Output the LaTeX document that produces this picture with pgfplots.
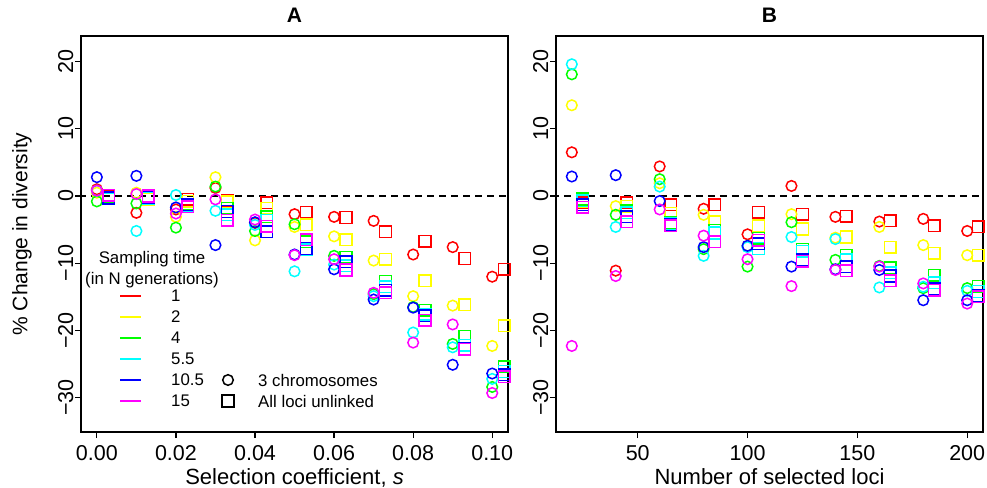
\documentclass[border=0pt]{standalone}
\usepackage{fontspec}
\setmainfont{Liberation Sans}
\usepackage{pgfplots}
\pgfplotsset{compat=1.18}
\usepackage{pgfplotstable}
\definecolor{Rred}{RGB}{255,0,0}
\definecolor{Ryellow}{RGB}{255,255,0}
\definecolor{Rgreen}{RGB}{0,255,0}
\definecolor{Rcyan}{RGB}{0,255,255}
\definecolor{Rblue}{RGB}{0,0,255}
\definecolor{Rmagenta}{RGB}{255,0,255}

% Panel A: circles (3 chromosomes) at s, squares (all loci unlinked) at s+0.003
\pgfplotstableread{
x r y g c b m
0.00 1.0 0.5 -0.8 0.8 2.8 0.8
0.01 -2.5 0.5 -1.1 -5.2 3.0 0.3
0.02 -2.0 -3.1 -4.7 0.15 -1.7 -2.6
0.03 1.2 2.8 1.4 -2.2 -7.3 -0.5
0.04 -4.0 -6.6 -5.2 -4.3 -3.9 -3.5
0.05 -2.7 -4.6 -4.2 -11.2 -8.7 -8.8
0.06 -3.1 -6.0 -8.9 -10.2 -10.9 -9.4
0.07 -3.7 -9.6 -14.6 -14.9 -15.4 -14.4
0.08 -8.7 -14.9 -16.5 -20.3 -16.6 -21.8
0.09 -7.6 -16.3 -22.0 -22.5 -25.1 -19.1
0.10 -12.0 -22.3 -28.4 -27.2 -26.4 -29.3
}\Acirc
\pgfplotstableread{
x r y g c b m
0.003 0.0 -0.3 -0.2 -0.4 -0.3 0.1
0.013 0.0 -0.5 -0.2 -0.3 -0.2 0.0
0.023 -0.5 -0.8 -1.2 -1.5 -1.3 -1.6
0.033 -0.6 -0.85 -1.8 -2.8 -2.3 -3.6
0.043 -1.0 -1.8 -3.1 -3.6 -5.3 -4.5
0.053 -2.4 -4.3 -6.8 -8.0 -7.8 -6.5
0.063 -3.2 -6.5 -9.1 -10.4 -9.8 -11.0
0.073 -5.3 -9.4 -12.7 -13.5 -14.0 -14.4
0.083 -6.7 -12.6 -17.0 -17.6 -17.8 -18.5
0.093 -9.3 -16.2 -20.9 -22.2 -22.7 -22.8
0.103 -10.9 -19.3 -25.4 -26.1 -26.6 -26.9
}\Asq
% Panel B: circles at n, squares at n+5
\pgfplotstableread{
x r y g c b m
20 6.5 13.5 18.1 19.6 2.9 -22.3
40 -11.1 -1.5 -2.8 -4.6 3.1 -11.9
60 4.4 1.9 2.5 1.4 -0.75 -2.0
80 -1.9 -2.8 -7.9 -8.9 -7.6 -5.9
100 -5.7 -7.4 -10.5 -7.6 -7.4 -9.4
120 1.5 -2.7 -3.9 -6.1 -10.5 -13.4
140 -3.1 -6.2 -9.5 -6.4 -10.9 -11.0
160 -3.8 -4.6 -10.4 -13.6 -11.0 -10.5
180 -3.4 -7.3 -13.7 -13.5 -15.5 -13.0
200 -5.2 -8.8 -13.7 -14.1 -15.5 -16.0
}\Bcirc
\pgfplotstableread{
x r y g c b m
25 -1.0 -0.8 -0.45 -0.7 -1.3 -1.7
45 -1.0 -1.5 -2.2 -2.5 -3.1 -3.8
65 -1.3 -2.6 -4.0 -4.1 -4.3 -4.4
85 -1.3 -3.8 -5.1 -5.5 -6.8 -6.8
105 -2.4 -4.4 -6.3 -7.8 -7.1 -6.6
125 -2.7 -4.9 -7.9 -8.2 -9.5 -9.7
145 -3.0 -6.1 -8.8 -9.5 -10.5 -11.1
165 -3.7 -7.6 -10.7 -11.4 -11.9 -12.6
185 -4.4 -8.5 -11.8 -12.9 -13.8 -14.0
205 -4.6 -8.8 -13.4 -14.2 -14.8 -15.0
}\Bsq

\begin{document}
\fontsize{21bp}{25bp}\selectfont
\begin{tikzpicture}
\useasboundingbox (0,0) rectangle (987bp,-488bp);
\pgfplotsset{
  panel/.style={scale only axis, width=427bp, height=396bp, anchor=south west,
    ymin=-35.1, ymax=23.8,
    ytick={-30,-20,-10,0,10,20},
    yticklabels={−30,−20,−10,0,10,20},
    /pgf/number format/assume math mode=true,
    tick align=outside, major tick length=6bp,
    xtick pos=left, ytick pos=left,
    tick style={line width=1.2bp, black},
    axis line style={line width=1.6bp},
    yticklabel style={rotate=90, anchor=south, inner sep=1.5bp, font=\fontsize{21.5bp}{25bp}\selectfont},
    xticklabel style={font=\fontsize{21.5bp}{25bp}\selectfont},
    label style={font=\fontsize{22bp}{26bp}\selectfont},
    xlabel style={yshift=6bp},
    every axis y label/.style={at={(rel axis cs:0,0.5)}, rotate=90, anchor=center, yshift=59bp},
    title style={font=\fontsize{21bp}{25bp}\selectfont\bfseries},
    clip=true,
  },
  circ/.style={only marks, mark=o, mark size=5.3bp, mark options={line width=1.5bp, solid}},
  sq/.style={only marks, mark=square, mark size=5.8bp, mark options={line width=1.5bp, solid}},
}
\begin{axis}[panel, at={(81bp,-432bp)},
  xmin=-0.004, xmax=0.104,
  xtick={0,0.02,0.04,0.06,0.08,0.1},
  xticklabels={0.00,0.02,0.04,0.06,0.08,0.10},
  xlabel={Selection coefficient, \textit{s}},
  ylabel={\% Change in diversity},
  title={A}]
\addplot[black, line width=1.8bp, dash pattern=on 7bp off 5bp] coordinates {(-1,0) (1,0)};
\foreach \col/\cc in {r/Rred,y/Ryellow,g/Rgreen,c/Rcyan,b/Rblue,m/Rmagenta}{
  \edef\tmp{\noexpand\addplot[circ, \cc] table[x=x, y=\col] {\noexpand\Acirc};
  \noexpand\addplot[sq, \cc] table[x=x, y=\col] {\noexpand\Asq};}
  \tmp
}
\end{axis}
\begin{axis}[panel, at={(556bp,-432bp)},
  xmin=12.8, xmax=207.2,
  xtick={50,100,150,200},
  xlabel={Number of selected loci},
  title={B}]
\addplot[black, line width=1.8bp, dash pattern=on 7bp off 5bp] coordinates {(0,0) (300,0)};
\foreach \col/\cc in {r/Rred,y/Ryellow,g/Rgreen,c/Rcyan,b/Rblue,m/Rmagenta}{
  \edef\tmp{\noexpand\addplot[circ, \cc] table[x=x, y=\col] {\noexpand\Bcirc};
  \noexpand\addplot[sq, \cc] table[x=x, y=\col] {\noexpand\Bsq};}
  \tmp
}
\end{axis}
% legend
\begin{scope}[font=\fontsize{16.8bp}{20bp}\selectfont]
\node at (152bp,-259bp) {Sampling time};
\node at (152bp,-280bp) {(in N generations)};
\foreach \lab/\cc/\yy in {1/Rred/296, 2/Ryellow/317, 4/Rgreen/338, 5.5/Rcyan/359, 10.5/Rblue/380, 15/Rmagenta/401}{
  \draw[\cc, line width=1.4bp] (120bp,-\yy bp) -- (141bp,-\yy bp);
  \node[anchor=west, inner sep=0pt] at (171bp,-\yy bp) {\lab};
}
\draw[line width=1.5bp] (228bp,-380bp) circle (5.3bp);
\draw[line width=1.5bp] (222.2bp,-406.8bp) rectangle (233.8bp,-395.2bp);
\node[anchor=west, inner sep=0pt] at (258bp,-380bp) {3 chromosomes};
\node[anchor=west, inner sep=0pt] at (258bp,-401bp) {All loci unlinked};
\end{scope}
\end{tikzpicture}
\end{document}
